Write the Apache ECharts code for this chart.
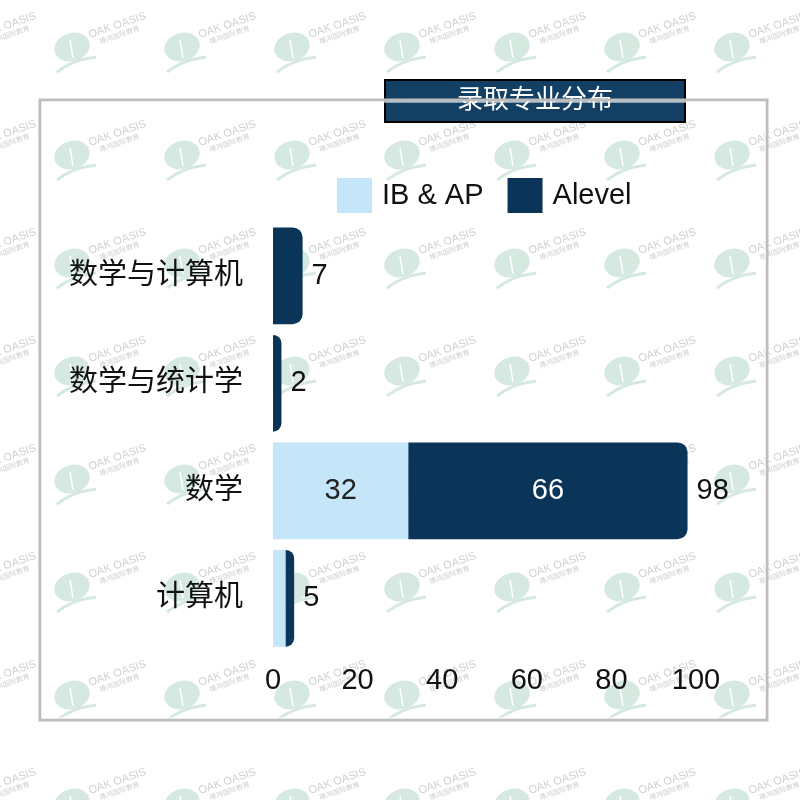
<!DOCTYPE html>
<html><head><meta charset="utf-8">
<script src="https://cdn.jsdelivr.net/npm/echarts@6/dist/echarts.min.js"></script>
<style>html,body{margin:0;padding:0;background:#fff}#c{width:800px;height:800px}</style>
</head><body><div id="c"></div>
<script>
const categories = ['计算机', '数学', '数学与统计学', '数学与计算机'];
const ibap = [3, 32, 0, 0];
const alevel = [2, 66, 2, 7];
const xTicks = [0, 20, 40, 60, 80, 100];
const totals = categories.map((c, i) => ibap[i] + alevel[i]);

const FONT = '"Liberation Sans", "Noto Sans CJK SC", sans-serif';

// watermark tile
const tile = document.createElement('canvas');
tile.width = 110; tile.height = 108;
const g = tile.getContext('2d');
g.fillStyle = '#d6e9e0';
g.beginPath(); g.ellipse(72, 47, 18, 14, -0.3, 0, Math.PI * 2); g.fill();
g.strokeStyle = '#d6e9e0'; g.lineWidth = 3;
g.beginPath(); g.moveTo(57, 72); g.quadraticCurveTo(72, 60, 96, 57); g.stroke();
g.lineWidth = 1.5; g.strokeStyle = '#fff';
g.beginPath(); g.moveTo(70, 40); g.lineTo(73, 58); g.stroke();
function wmText(x, y) {
  g.save(); g.translate(x, y); g.rotate(-0.33);
  g.fillStyle = '#d0d0d0'; g.font = '11px "Liberation Sans", sans-serif';
  g.fillText('OAK OASIS', 0, 0);
  g.font = '7px "Noto Sans CJK SC", sans-serif'; g.fillText('橡鸿国际教育', 8, 9);
  g.restore();
}
wmText(90, 38); wmText(-20, 38);

const chart = echarts.init(document.getElementById('c'));
chart.setOption({
  backgroundColor: { image: tile, repeat: 'repeat' },
  animation: false,
  title: {
    text: '录取专业分布', left: 385, top: 80,
    padding: [8, 72, 8, 72],
    backgroundColor: '#123f63', borderColor: '#000', borderWidth: 2,
    textStyle: { color: '#fff', fontSize: 26, fontWeight: 'normal', fontFamily: FONT }
  },
  graphic: [
    { type: 'rect', z: 100, silent: true, shape: { x: 40, y: 100, width: 727, height: 620 }, style: { fill: 'rgba(0,0,0,0)', stroke: '#bdbdbd', lineWidth: 3 } },
    { type: 'rect', z: 100, silent: true, shape: { x: 42, y: 102, width: 723, height: 616 }, style: { fill: 'rgba(0,0,0,0)', stroke: '#ffffff', lineWidth: 1 } }
  ],
  legend: {
    top: 173, left: 332, itemWidth: 35, itemHeight: 35, itemGap: 24, icon: 'rect',
    textStyle: { fontSize: 29, color: '#111', fontFamily: FONT, padding: [0, 0, 0, 5] },
    data: ['IB & AP', 'Alevel']
  },
  grid: { left: 273, right: 104, top: 222, bottom: 148, containLabel: false },
  xAxis: {
    type: 'value', min: 0, max: 100, interval: 20,
    axisLine: { show: false }, axisTick: { show: false }, splitLine: { show: false },
    axisLabel: { fontSize: 29, color: '#111', fontFamily: FONT, margin: 14,
      formatter: v => xTicks.includes(v) ? String(v) : '' }
  },
  yAxis: {
    type: 'category', data: categories,
    axisLine: { show: false }, axisTick: { show: false },
    axisLabel: { fontSize: 29, color: '#111', fontFamily: FONT, margin: 30 }
  },
  series: [
    {
      name: 'IB & AP', type: 'bar', stack: 'a', data: ibap, barWidth: '90%',
      itemStyle: { color: '#c5e5f8' },
      label: { show: true, position: 'inside', fontSize: 29, color: '#222', fontFamily: FONT,
        formatter: p => p.value >= 10 ? p.value : '' }
    },
    {
      name: 'Alevel', type: 'bar', stack: 'a', data: alevel, barWidth: '90%',
      itemStyle: { color: '#0b3558', borderRadius: [0, 10, 10, 0] },
      label: { show: true, position: 'inside', fontSize: 29, color: '#fff', fontFamily: FONT,
        formatter: p => p.value >= 10 ? p.value : '' }
    },
    {
      name: 'total', type: 'bar', stack: 'a', data: totals.map(() => 0), barWidth: '90%',
      itemStyle: { color: 'transparent' }, silent: true, tooltip: { show: false },
      label: { show: true, position: 'right', distance: 9, fontSize: 29, color: '#111', fontFamily: FONT,
        formatter: p => totals[p.dataIndex] }
    }
  ]
});
</script></body></html>
